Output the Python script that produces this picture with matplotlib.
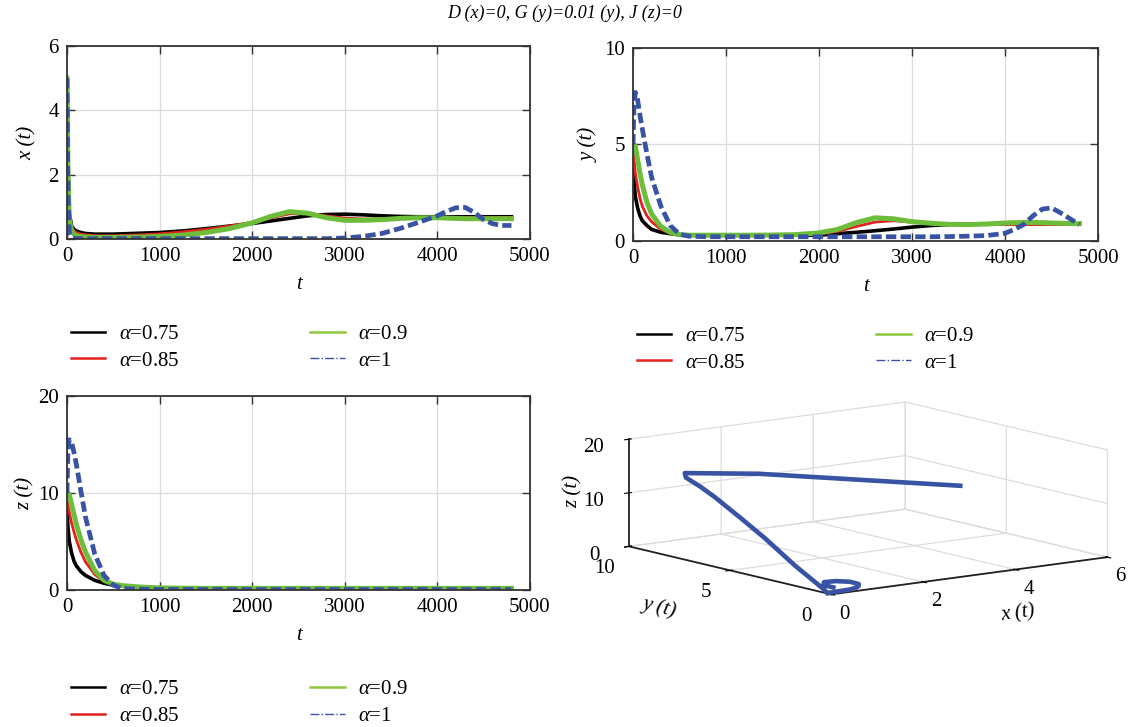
import numpy as np
import matplotlib
matplotlib.use("Agg")
import matplotlib.pyplot as plt
from matplotlib.lines import Line2D

plt.rcParams['font.family'] = ['Liberation Serif', 'DejaVu Serif']
plt.rcParams['mathtext.fontset'] = 'custom'
plt.rcParams['mathtext.rm'] = 'Liberation Serif'
plt.rcParams['mathtext.it'] = 'Liberation Serif:italic'

# sample times shared by every series
t = [0, 10, 25, 50, 75, 100, 150, 200, 300, 400, 500, 600, 800, 1000, 1250, 1500,
     1750, 2000, 2200, 2400, 2600, 2800, 3000, 3200, 3400, 3600, 3800, 4000, 4100,
     4200, 4300, 4400, 4500, 4600, 4700, 4800]

alphas = ['0.75', '0.85', '0.9', '1']

# x(t) for each fractional order
x_075 = [5, 2.5, 0.8, 0.4, 0.3, 0.25, 0.2, 0.17, 0.15, 0.15, 0.15, 0.16, 0.18, 0.2, 0.25, 0.32,
         0.4, 0.48, 0.56, 0.64, 0.72, 0.76, 0.77, 0.75, 0.72, 0.7, 0.69, 0.69, 0.69,
         0.69, 0.69, 0.69, 0.69, 0.69, 0.69, 0.69]
x_085 = [5, 2.2, 0.7, 0.35, 0.25, 0.2, 0.15, 0.13, 0.1, 0.1, 0.1, 0.11, 0.13, 0.16, 0.22, 0.3,
         0.4, 0.52, 0.65, 0.78, 0.8, 0.72, 0.65, 0.62, 0.62, 0.64, 0.66, 0.67, 0.67,
         0.67, 0.67, 0.67, 0.67, 0.67, 0.67, 0.67]
x_090 = [5, 2.0, 0.6, 0.25, 0.15, 0.1, 0.08, 0.06, 0.05, 0.05, 0.05, 0.05, 0.06, 0.08, 0.12, 0.2,
         0.32, 0.5, 0.7, 0.85, 0.8, 0.66, 0.58, 0.58, 0.6, 0.64, 0.66, 0.66, 0.65,
         0.64, 0.63, 0.63, 0.63, 0.63, 0.63, 0.63]
x_100 = [5, 1.5, 0.2, 0.05, 0.02, 0.01, 0.01, 0.01, 0.01, 0.01, 0.01, 0.01, 0.01, 0.01, 0.01, 0.01,
         0.01, 0.01, 0.01, 0.01, 0.01, 0.01, 0.03, 0.08, 0.17, 0.33, 0.52, 0.72, 0.86,
         0.97, 0.98, 0.82, 0.6, 0.47, 0.42, 0.42]

# y(t)
y_075 = [4.5, 3.2, 2.3, 1.7, 1.3, 1.05, 0.8, 0.6, 0.45, 0.38, 0.32, 0.3, 0.3, 0.3, 0.3, 0.3,
         0.3, 0.3, 0.38, 0.45, 0.53, 0.62, 0.72, 0.8, 0.85, 0.87, 0.88, 0.88, 0.88,
         0.88, 0.88, 0.88, 0.88, 0.88, 0.88, 0.88]
y_085 = [4.8, 4.2, 3.5, 2.8, 2.2, 1.8, 1.3, 1.0, 0.6, 0.4, 0.32, 0.3, 0.3, 0.3, 0.3, 0.31,
         0.32, 0.35, 0.5, 0.75, 0.98, 1.05, 0.98, 0.92, 0.88, 0.85, 0.85, 0.85, 0.85,
         0.85, 0.85, 0.85, 0.85, 0.85, 0.85, 0.85]
y_090 = [4.9, 5.0, 4.9, 4.2, 3.5, 2.9, 2.0, 1.4, 0.75, 0.45, 0.33, 0.3, 0.3, 0.3, 0.3, 0.31,
         0.33, 0.42, 0.6, 0.95, 1.2, 1.15, 1.0, 0.92, 0.86, 0.85, 0.88, 0.93, 0.95,
         0.96, 0.96, 0.95, 0.93, 0.92, 0.9, 0.9]
y_100 = [5.0, 7.0, 7.7, 7.3, 6.5, 5.8, 4.5, 3.3, 1.8, 0.8, 0.35, 0.25, 0.22, 0.22, 0.22, 0.22,
         0.22, 0.22, 0.22, 0.22, 0.22, 0.22, 0.22, 0.22, 0.23, 0.25, 0.28, 0.4, 0.6,
         0.85, 1.3, 1.65, 1.72, 1.45, 1.15, 0.85]

# z(t)
z_075 = [8.5, 6.5, 5.0, 3.8, 3.0, 2.5, 1.9, 1.5, 1.0, 0.7, 0.5, 0.4, 0.25, 0.18, 0.15, 0.13,
         0.12, 0.12, 0.12, 0.12, 0.12, 0.12, 0.12, 0.12, 0.12, 0.12, 0.12, 0.12, 0.12,
         0.12, 0.12, 0.12, 0.12, 0.12, 0.12, 0.12]
z_085 = [9.3, 8.7, 8.0, 6.9, 6.0, 5.2, 3.9, 2.9, 1.6, 0.9, 0.6, 0.45, 0.3, 0.22, 0.18, 0.16,
         0.15, 0.15, 0.15, 0.15, 0.15, 0.15, 0.15, 0.15, 0.15, 0.15, 0.15, 0.15, 0.15,
         0.15, 0.15, 0.15, 0.15, 0.15, 0.15, 0.15]
z_090 = [9.8, 10.0, 9.8, 8.8, 7.8, 6.8, 5.2, 3.9, 2.0, 1.0, 0.6, 0.45, 0.3, 0.22, 0.19, 0.17,
         0.17, 0.17, 0.17, 0.17, 0.17, 0.17, 0.17, 0.17, 0.17, 0.17, 0.17, 0.17, 0.17,
         0.17, 0.17, 0.17, 0.17, 0.17, 0.17, 0.17]
z_100 = [10, 14.5, 15.5, 15.2, 14.2, 13.0, 10.2, 7.5, 3.7, 1.5, 0.5, 0.15, 0.08, 0.06, 0.05, 0.05,
         0.05, 0.05, 0.05, 0.05, 0.05, 0.05, 0.05, 0.05, 0.05, 0.05, 0.05, 0.05, 0.05,
         0.05, 0.05, 0.05, 0.05, 0.05, 0.05, 0.05]

colors = ['black', '#e3211f', '#6cbd3a', '#3852a4']
widths = [2.6, 2.0, 3.6, 3.4]

fig = plt.figure(figsize=(11.3, 7.27), dpi=100)
fig.text(0.5, 0.982, 'D (x)=0, G (y)=0.01 (y), J (z)=0', ha='center', va='center',
         fontsize=13, style='italic')


def style_axes(ax, ymax, yticks, show_t=True):
    ax.set_xlim(0, 5000)
    ax.set_ylim(0, ymax)
    ax.set_xticks([0, 1000, 2000, 3000, 4000, 5000])
    ax.set_yticks(yticks)
    ax.grid(True, color='#dcdcdc', lw=0.9)
    ax.set_axisbelow(True)
    ax.tick_params(direction='in', top=True, right=True, length=6, width=1,
                   labelsize=15, color='#333333', pad=6)
    for s in ax.spines.values():
        s.set_color('#333333')
        s.set_linewidth(1.3)
    if show_t:
        ax.set_xlabel('t', fontsize=15, style='italic', labelpad=6)


def add_legend(ax, y0):
    handles = [Line2D([], [], color=colors[0], lw=1.8),
               Line2D([], [], color=colors[1], lw=1.8),
               Line2D([], [], color='#8dc63f', lw=1.8),
               Line2D([], [], color='#3852a4', lw=1.0, ls='-.')]
    labels = [r'$\alpha$=' + a for a in alphas]
    ax.legend(handles, labels, ncol=2, loc='upper left', bbox_to_anchor=(-0.01, y0),
              frameon=False, fontsize=15, handlelength=1.65, handletextpad=0.65,
              columnspacing=6.3, labelspacing=0.33, borderaxespad=0)


def plot_series(ax, series):
    for i, s in enumerate(series):
        if i == 3:
            ax.plot(t, s, color=colors[i], lw=widths[i], dashes=(2.2, 0.9))
        else:
            ax.plot(t, s, color=colors[i], lw=widths[i])


ax1 = fig.add_axes([0.0593, 0.6713, 0.4097, 0.2655])
plot_series(ax1, [x_075, x_085, x_090, x_100])
style_axes(ax1, 6, [0, 2, 4, 6])
ax1.set_ylabel('x (t)', fontsize=15, style='italic', labelpad=8)
add_legend(ax1, -0.40)

ax2 = fig.add_axes([0.5602, 0.6685, 0.4115, 0.2655])
plot_series(ax2, [y_075, y_085, y_090, y_100])
style_axes(ax2, 10, [0, 5, 10])
ax2.set_ylabel('y (t)', fontsize=15, style='italic', labelpad=4)
add_legend(ax2, -0.40)

ax3 = fig.add_axes([0.0593, 0.1884, 0.4097, 0.2668])
plot_series(ax3, [z_075, z_085, z_090, z_100])
style_axes(ax3, 20, [0, 10, 20])
ax3.set_ylabel('z (t)', fontsize=15, style='italic', labelpad=2)
add_legend(ax3, -0.42)

# phase trajectory of the alpha = 1 case
ax4 = fig.add_axes([0.499, 0.058, 0.53, 0.5], projection='3d')
ax4.set_facecolor('none')
ax4.plot(x_100, y_100, z_100, color=colors[3], lw=3.3)
ax4.set_proj_type('ortho')
ax4.view_init(elev=10.3, azim=-127)
ax4.set_box_aspect((346, 336, 109), zoom=1.32)
ax4.set_xlim(0, 6)
ax4.set_ylim(0, 10)
ax4.set_zlim(0, 20)
ax4.set_xticks([0, 2, 4, 6])
ax4.set_yticks([0, 5, 10])
ax4.set_zticks([0, 10, 20])
ax4.tick_params(labelsize=15, pad=4)
ax4.tick_params(axis='x', pad=1)
ax4.tick_params(axis='z', pad=2)
for axis in (ax4.xaxis, ax4.yaxis, ax4.zaxis):
    axis.set_pane_color((1, 1, 1, 0))
    axis.pane.set_edgecolor('#444444')
    axis.pane.set_linewidth(1.0)
    axis._axinfo['grid']['color'] = '#dcdcdc'
    axis._axinfo['grid']['linewidth'] = 0.9
    axis.line.set_color('#222222')
    axis.line.set_linewidth(1.3)
ax4.set_xlabel('x (t)', fontsize=15, style='italic', labelpad=12)
ax4.set_ylabel('y (t)', fontsize=15, style='italic', labelpad=14)
ax4.set_zlabel('z (t)', fontsize=15, style='italic', labelpad=-5)

fig.savefig('out.png', dpi=100)
